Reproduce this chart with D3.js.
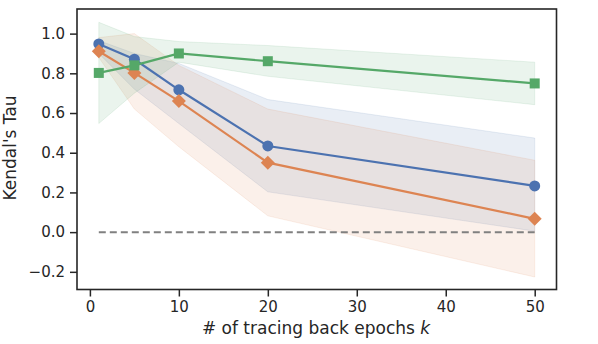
<!DOCTYPE html>
<html><head><meta charset="utf-8">
<script src="https://cdn.jsdelivr.net/npm/d3@7"></script>
<style>body{margin:0;background:#fff}svg{display:block}</style>
</head><body>
<svg id="c" width="598" height="344"></svg>
<script>
const ks = [1, 5, 10, 20, 50];
const blueMean  = [0.948, 0.871, 0.717, 0.434, 0.233];
const blueLow   = [0.900, 0.720, 0.547, 0.203, 0.005];
const blueHigh  = [0.965, 0.900, 0.850, 0.668, 0.474];
const orangeMean = [0.911, 0.802, 0.660, 0.350, 0.067];
const orangeLow  = [0.880, 0.620, 0.430, 0.082, -0.226];
const orangeHigh = [0.980, 1.000, 0.840, 0.620, 0.362];
const greenMean = [0.802, 0.840, 0.900, 0.861, 0.749];
const greenLow  = [0.547, 0.700, 0.856, 0.785, 0.642];
const greenHigh = [1.057, 0.985, 0.960, 0.940, 0.856];
const xTicks = [0, 10, 20, 30, 40, 50];
const yTicks = [-0.2, 0.0, 0.2, 0.4, 0.6, 0.8, 1.0];

const series = [
  {mean: blueMean, low: blueLow, high: blueHigh, color: "#4C72B0", marker: "circle"},
  {mean: orangeMean, low: orangeLow, high: orangeHigh, color: "#DD8452", marker: "diamond"},
  {mean: greenMean, low: greenLow, high: greenHigh, color: "#55A868", marker: "square"}
];

const L = 77, R = 556.5, T = 9, B = 289.5;
const x = d3.scaleLinear().domain([-1.45, 52.45]).range([L, R]);
const y = d3.scaleLinear().domain([-0.289, 1.124]).range([B, T]);
const svg = d3.select("#c");
const font = "DejaVu Sans, sans-serif";
const ink = "#262626";

// bands
series.forEach(s => {
  const area = d3.area().x((d, i) => x(ks[i])).y0((d, i) => y(s.low[i])).y1((d, i) => y(s.high[i]));
  svg.append("path").datum(s.mean).attr("d", area)
    .attr("fill", s.color).attr("fill-opacity", 0.12)
    .attr("stroke", s.color).attr("stroke-opacity", 0.12).attr("stroke-width", 1);
});

// zero line
svg.append("line").attr("x1", x(1)).attr("x2", x(50)).attr("y1", y(0)).attr("y2", y(0))
  .attr("stroke", "#808080").attr("stroke-width", 2).attr("stroke-dasharray", "7,4");

// lines + markers
series.forEach(s => {
  const line = d3.line().x((d, i) => x(ks[i])).y(d => y(d));
  svg.append("path").datum(s.mean).attr("d", line).attr("fill", "none")
    .attr("stroke", s.color).attr("stroke-width", 2.2);
  const g = svg.append("g").attr("fill", s.color);
  s.mean.forEach((v, i) => {
    const cx = x(ks[i]), cy = y(v);
    if (s.marker === "circle") g.append("circle").attr("cx", cx).attr("cy", cy).attr("r", 5.5);
    else if (s.marker === "square") g.append("rect").attr("x", cx - 5).attr("y", cy - 5).attr("width", 10).attr("height", 10);
    else g.append("path").attr("d", d3.symbol(d3.symbolDiamond2, 125)()).attr("transform", `translate(${cx},${cy})`);
  });
});

// axes frame
svg.append("rect").attr("x", L).attr("y", T).attr("width", R - L).attr("height", B - T)
  .attr("fill", "none").attr("stroke", ink).attr("stroke-width", 1.6);

const xAxis = svg.append("g").attr("transform", `translate(0,${B})`)
  .call(d3.axisBottom(x).tickValues(xTicks).tickSize(7).tickPadding(5).tickFormat(d3.format("d")));
const yAxis = svg.append("g").attr("transform", `translate(${L},0)`)
  .call(d3.axisLeft(y).tickValues(yTicks).tickSize(7).tickPadding(5)
    .tickFormat(d => d3.format(".1f")(d).replace("-", "\u2212")));
[xAxis, yAxis].forEach(a => {
  a.select(".domain").remove();
  a.selectAll(".tick line").attr("stroke", ink).attr("stroke-width", 1.5);
  a.selectAll("text").attr("fill", ink).style("font-family", font).style("font-size", "15px");
});

svg.append("text").attr("x", 316).attr("y", 334).attr("text-anchor", "middle")
  .attr("fill", ink).style("font-family", font).style("font-size", "17px")
  .text("# of tracing back epochs ").append("tspan").attr("font-style", "italic").text("k");
svg.append("text").attr("transform", "translate(16,148) rotate(-90)").attr("text-anchor", "middle")
  .attr("fill", ink).style("font-family", font).style("font-size", "17px").text("Kendal's Tau");
</script>
</body></html>
